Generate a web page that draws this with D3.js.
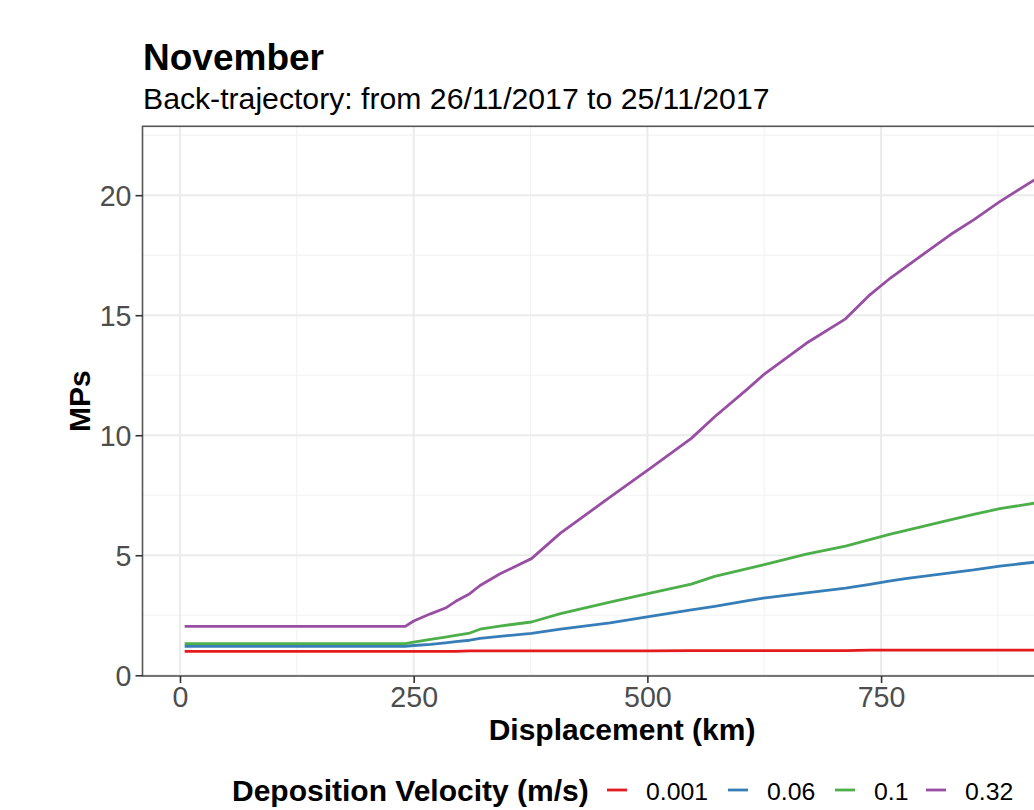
<!DOCTYPE html>
<html>
<head>
<meta charset="utf-8">
<script src="https://cdn.jsdelivr.net/npm/d3@7"></script>
<style>
  body { margin: 0; background: #fff; }
  #chart { width: 1034px; height: 810px; overflow: hidden; }
  text { font-family: "Liberation Sans", Arial, sans-serif; }
</style>
</head>
<body>
<div id="chart"></div>
<script>
// displacement along the back-trajectory (km)
const displacement = [5, 241, 250, 268, 284, 295, 310, 321, 342, 376, 407, 460, 503, 547, 572, 606, 624, 670, 712, 738, 760, 778, 824, 849, 877, 914, 939];

// MPs for each deposition velocity
const mps0001 = [1.00, 1.00, 1.00, 1.00, 1.00, 1.00, 1.02, 1.02, 1.02, 1.02, 1.02, 1.02, 1.02, 1.03, 1.03, 1.03, 1.03, 1.03, 1.03, 1.05, 1.05, 1.05, 1.05, 1.05, 1.05, 1.05, 1.05];
const mps006  = [1.21, 1.21, 1.24, 1.29, 1.35, 1.40, 1.46, 1.54, 1.62, 1.75, 1.92, 2.18, 2.45, 2.72, 2.87, 3.10, 3.21, 3.43, 3.63, 3.79, 3.93, 4.04, 4.27, 4.39, 4.55, 4.71, 4.82];
const mps01   = [1.32, 1.32, 1.38, 1.50, 1.59, 1.66, 1.76, 1.92, 2.05, 2.22, 2.57, 3.05, 3.42, 3.80, 4.12, 4.43, 4.60, 5.05, 5.38, 5.65, 5.88, 6.05, 6.47, 6.70, 6.94, 7.17, 7.33];
const mps032  = [2.04, 2.04, 2.26, 2.56, 2.80, 3.08, 3.40, 3.74, 4.22, 4.86, 5.92, 7.42, 8.62, 9.87, 10.77, 11.89, 12.51, 13.83, 14.85, 15.85, 16.55, 17.06, 18.35, 18.97, 19.73, 20.64, 21.30];

const seriesNames = ["0.001", "0.06", "0.1", "0.32"];
const seriesValues = [mps0001, mps006, mps01, mps032];
const seriesColors = ["#E41A1C", "#377EB8", "#4DAF4A", "#984EA3"];

const xTicks = [0, 250, 500, 750];
const xMinorTicks = [125, 375, 625, 875];
const yTicks = [0, 5, 10, 15, 20];
const yMinorTicks = [2.5, 7.5, 12.5, 17.5, 22.5];

function renderChart(selector) {
    const W = 1034, H = 810;

    const svg = d3.select(selector).append("svg")
        .attr("width", W)
        .attr("height", H)
        .attr("viewBox", `0 0 ${W} ${H}`);

    // panel runs past the right edge of the picture, like the cropped original
    const x = d3.scaleLinear().domain([-40.1, 985.8]).range([142.5, 1101.5]);
    const y = d3.scaleLinear().domain([-0.03, 22.87]).range([676, 126.3]);

    const [px0, px1] = x.range();
    const [py1, py0] = y.range();

    svg.append("defs").append("clipPath")
        .attr("id", "panel-clip")
        .append("rect")
        .attr("x", px0).attr("y", py0)
        .attr("width", px1 - px0).attr("height", py1 - py0);

    const grid = svg.append("g").attr("class", "grid");

    grid.selectAll(".minor-x")
        .data(xMinorTicks)
        .enter().append("line")
        .attr("x1", d => x(d)).attr("x2", d => x(d))
        .attr("y1", py0).attr("y2", py1)
        .attr("stroke", "#F3F3F3").attr("stroke-width", 1.2);

    grid.selectAll(".minor-y")
        .data(yMinorTicks)
        .enter().append("line")
        .attr("x1", px0).attr("x2", px1)
        .attr("y1", d => y(d)).attr("y2", d => y(d))
        .attr("stroke", "#F3F3F3").attr("stroke-width", 1.2);

    grid.selectAll(".major-x")
        .data(xTicks)
        .enter().append("line")
        .attr("x1", d => x(d)).attr("x2", d => x(d))
        .attr("y1", py0).attr("y2", py1)
        .attr("stroke", "#EBEBEB").attr("stroke-width", 2);

    grid.selectAll(".major-y")
        .data(yTicks)
        .enter().append("line")
        .attr("x1", px0).attr("x2", px1)
        .attr("y1", d => y(d)).attr("y2", d => y(d))
        .attr("stroke", "#EBEBEB").attr("stroke-width", 2);

    const line = d3.line()
        .x((d, i) => x(displacement[i]))
        .y(d => y(d));

    svg.append("g")
        .attr("clip-path", "url(#panel-clip)")
        .selectAll(".line")
        .data(seriesValues)
        .enter().append("path")
        .attr("class", "line")
        .attr("d", line)
        .attr("fill", "none")
        .attr("stroke", (d, i) => seriesColors[i])
        .attr("stroke-width", 2.8)
        .attr("stroke-linejoin", "round");

    // panel border
    svg.append("rect")
        .attr("x", px0).attr("y", py0)
        .attr("width", px1 - px0).attr("height", py1 - py0)
        .attr("fill", "none")
        .attr("stroke", "#555555")
        .attr("stroke-width", 1.6);

    const xAxis = svg.append("g")
        .attr("transform", `translate(0, ${py1})`)
        .call(d3.axisBottom(x).tickValues(xTicks).tickSize(7).tickPadding(3));

    const yAxis = svg.append("g")
        .attr("transform", `translate(${px0}, 0)`)
        .call(d3.axisLeft(y).tickValues(yTicks).tickSize(7).tickPadding(4));

    [xAxis, yAxis].forEach(ax => {
        ax.select(".domain").remove();
        ax.selectAll(".tick line").attr("stroke", "#333333").attr("stroke-width", 1.6);
        ax.selectAll(".tick text")
            .attr("fill", "#4D4D4D")
            .style("font-size", "28.6px")
            .style("font-family", "'Liberation Sans', Arial, sans-serif");
    });
    yAxis.selectAll(".tick text").attr("dy", "0.36em");
    xAxis.selectAll(".tick text").attr("dy", "0.72em");

    svg.append("text")
        .attr("x", 143)
        .attr("y", 70)
        .style("font-size", "37px")
        .style("font-weight", "bold")
        .text("November");

    svg.append("text")
        .attr("x", 143)
        .attr("y", 109)
        .style("font-size", "30.2px")
        .text("Back-trajectory: from 26/11/2017 to 25/11/2017");

    svg.append("text")
        .attr("x", (px0 + px1) / 2)
        .attr("y", 740)
        .attr("text-anchor", "middle")
        .style("font-size", "30px")
        .style("font-weight", "bold")
        .text("Displacement (km)");

    svg.append("text")
        .attr("transform", "rotate(-90)")
        .attr("x", -(py0 + py1) / 2)
        .attr("y", 90)
        .attr("text-anchor", "middle")
        .style("font-size", "30px")
        .style("font-weight", "bold")
        .text("MPs");

    // legend
    const legend = svg.append("g").attr("class", "legend");

    legend.append("text")
        .attr("x", 232)
        .attr("y", 801)
        .style("font-size", "30px")
        .style("font-weight", "bold")
        .text("Deposition Velocity (m/s)");

    const keyX = [607, 728, 835, 926];
    const items = legend.selectAll(".item")
        .data(seriesNames)
        .enter().append("g")
        .attr("class", "item")
        .attr("transform", (d, i) => `translate(${keyX[i]}, 790)`);

    items.append("line")
        .attr("x1", 0).attr("x2", 20)
        .attr("y1", 0).attr("y2", 0)
        .attr("stroke", (d, i) => seriesColors[i])
        .attr("stroke-width", 2.8);

    items.append("text")
        .attr("x", 39)
        .attr("y", 10)
        .style("font-size", "24.8px")
        .text(d => d);
}

renderChart("#chart");
</script>
</body>
</html>
